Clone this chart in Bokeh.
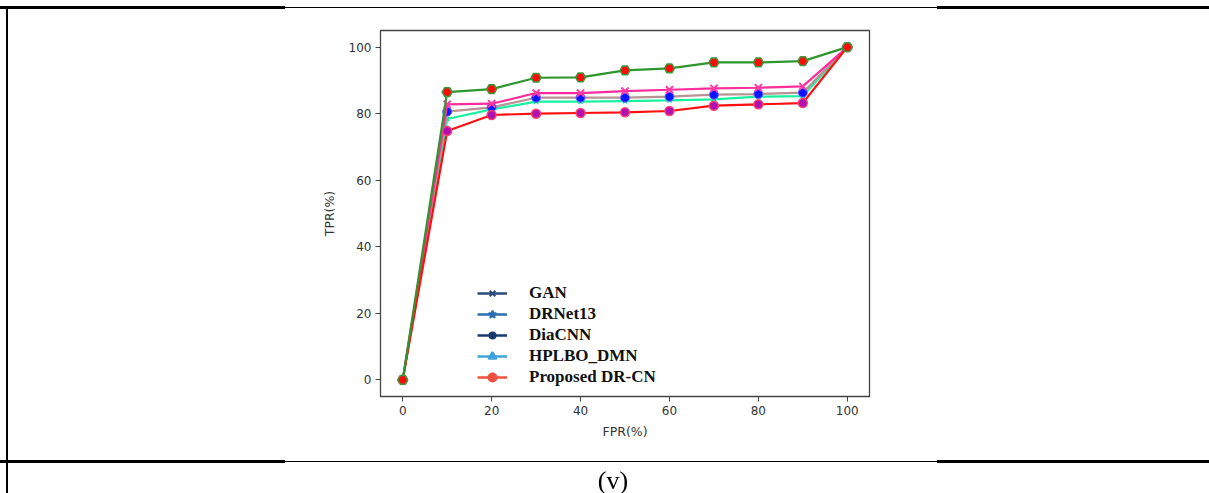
from bokeh.plotting import figure
from bokeh.models import (Range1d, FixedTicker, Legend, LegendItem, ColumnDataSource, Div)
from bokeh.layouts import column
from bokeh.embed import file_html
from bokeh.resources import INLINE
import math

# ---------------- data ----------------
fpr = [0, 10, 20, 30, 40, 50, 60, 70, 80, 90, 100]
tpr_green = [0, 86.5, 87.4, 90.8, 90.9, 93.0, 93.6, 95.4, 95.4, 95.8, 100]
tpr_pink = [0, 82.8, 83.0, 86.2, 86.2, 86.8, 87.2, 87.6, 87.8, 88.2, 100]
tpr_gray = [0, 80.6, 81.9, 84.8, 84.8, 84.8, 85.1, 85.7, 85.9, 86.3, 100]
tpr_spring = [0, 78.4, 81.3, 83.6, 83.6, 83.8, 84.0, 84.3, 85.1, 85.3, 100]
tpr_red = [0, 74.8, 79.6, 80.0, 80.2, 80.4, 80.8, 82.4, 82.8, 83.2, 100]

legend_names = ["GAN", "DRNet13", "DiaCNN", "HPLBO_DMN", "Proposed DR-CN"]
x_ticks = [0, 20, 40, 60, 80, 100]
y_ticks = [0, 20, 40, 60, 80, 100]
caption = "(v)"

# ---------------- layout constants ----------------
W, H = 1209, 493
FIG_H = 480
FL, FR, FT, FB = 380, 869, 30, 396  # frame edges in canvas px

p = figure(width=W, height=FIG_H, output_backend="svg", toolbar_location=None,
           x_range=Range1d(-5, 105), y_range=Range1d(-5, 105),
           min_border_left=FL, min_border_right=W - FR,
           min_border_top=FT, min_border_bottom=FIG_H - FB)
p.background_fill_color = "white"
p.border_fill_color = "white"
p.outline_line_color = "#444444"
p.outline_line_width = 1.3
p.grid.visible = False

for ax in (p.xaxis[0], p.yaxis[0]):
    ax.major_label_text_font = "DejaVu Sans"
    ax.major_label_text_font_size = "12px"
    ax.major_label_text_color = "#333333"
    ax.axis_label_text_font = "DejaVu Sans"
    ax.axis_label_text_font_size = "12.5px"
    ax.axis_label_text_font_style = "normal"
    ax.axis_label_text_color = "#333333"
    ax.axis_line_color = "#444444"
    ax.major_tick_line_color = "#444444"
    ax.major_tick_out = 5
    ax.major_tick_in = 0
    ax.minor_tick_out = 0
    ax.minor_tick_in = 0
    ax.major_label_standoff = 4

p.xaxis[0].ticker = FixedTicker(ticks=x_ticks)
p.yaxis[0].ticker = FixedTicker(ticks=y_ticks)
p.xaxis[0].axis_label = "FPR(%)"
p.yaxis[0].axis_label = "TPR(%)"
p.xaxis[0].axis_label_standoff = 6
p.yaxis[0].axis_label_standoff = 9

# ---------------- series ----------------
lw = 2.2
p.line(fpr, tpr_spring, line_color="#19f0a0", line_width=lw)
p.scatter(fpr, tpr_spring, marker="x", size=6, line_color="#19e090", line_width=1.5)

p.line(fpr, tpr_gray, line_color="#b99393", line_width=lw)
p.scatter(fpr, tpr_gray, marker="circle", size=9, fill_color="#0a14ff", line_color="#6a6aff")

p.line(fpr, tpr_pink, line_color="#ff2d9b", line_width=lw)
p.scatter(fpr, tpr_pink, marker="x", size=10, line_color="#ff3aa8", line_width=2)

p.line(fpr, tpr_red, line_color="#ff1010", line_width=lw)
p.scatter(fpr, tpr_red, marker="circle", size=9, fill_color="#b010b0", line_color="#ff4070", line_width=1.5)

p.line(fpr, tpr_green, line_color="#2e962e", line_width=lw)
p.scatter(fpr, tpr_green, marker="hex", size=10, fill_color="#ff0a0a", line_color="#3a9a3a", line_width=1.5)

# ---------------- legend (pasted-style legend) ----------------
leg_colors = ["#2d4a78", "#2b6db4", "#173a72", "#3da3dc", "#f0503f"]
leg_markers = ["x", "star", "circle", "triangle", "circle"]
leg_sizes = [8, 9, 4, 11, 11]
leg_lw = [2, 2, 0, 2, 2]
leg_angles = [0, 0, 0, -math.pi / 2, 0]
nan = float("nan")
items = []
for name, c, m, s, a, w in zip(legend_names, leg_colors, leg_markers, leg_sizes, leg_angles, leg_lw):
    src = ColumnDataSource(dict(x=[nan], y=[nan]))
    lr = p.line("x", "y", source=src, line_color=c, line_width=2.5)
    sr = p.scatter("x", "y", source=src, marker=m, size=s, angle=a,
                   fill_color=c, line_color=c, line_width=w)
    items.append(LegendItem(label=name, renderers=[lr, sr]))

n = len(legend_names)
row_h, gap = 20, 1
leg_h = n * row_h + (n - 1) * gap
leg_top = 283
legend = Legend(items=items, location=(477 - FL, FB - (leg_top + leg_h)),
                background_fill_alpha=0, border_line_alpha=0,
                padding=0, margin=0, spacing=gap,
                glyph_width=30, glyph_height=row_h, label_height=row_h,
                label_standoff=22,
                label_text_font="Liberation Serif", label_text_font_style="bold",
                label_text_font_size="17px", label_text_color="#111111")
p.add_layout(legend)

# ---------------- table frame decoration (page overlay) ----------------
def bar(left, top, width, height):
    return (f'<div style="position:fixed;left:{left}px;top:{top}px;width:{width}px;'
            f'height:{height}px;background:#000;pointer-events:none;z-index:5"></div>')

html = "".join([
    bar(0, 6, 285, 3),
    bar(285, 7, 652, 1),
    bar(937, 6, W - 937, 3),
    bar(0, 460, 285, 3),
    bar(285, 461, 652, 1),
    bar(937, 460, W - 937, 3),
    bar(6, 6, 2, H - 6),
    f'<div style="position:fixed;left:413px;top:465px;width:400px;text-align:center;'
    f'font-family:\'Liberation Serif\';font-size:26px;line-height:32px;color:#000">{caption}</div>',
])
deco = Div(text=html, width=W, height=H - FIG_H, margin=0)

layout = column(p, deco, spacing=0)
open("out.html", "w").write(file_html(layout, INLINE))
